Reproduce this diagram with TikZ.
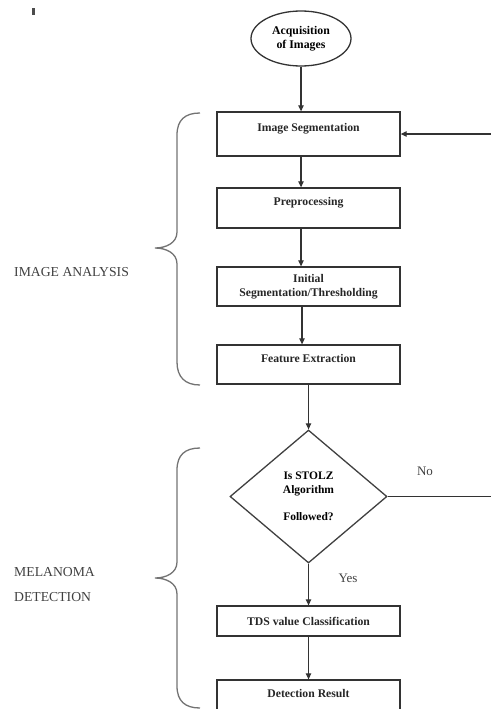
\documentclass[tikz,border=0pt]{standalone}
\usepackage{fontspec}
\setmainfont{Liberation Serif}
\usetikzlibrary{arrows.meta,shapes.geometric}

\tikzset{
    procbox/.style={draw=black!80, line width=1.3pt, minimum width=183pt, inner sep=0pt,
        align=center, font=\bfseries\fontsize{11.7}{14}\selectfont, text=black!85},
    raised/.style={text depth=13pt},
    flow/.style={draw=black!80, line width=1.2pt, -{Triangle[length=6pt,width=5.5pt]}},
    sidetext/.style={anchor=west, align=left, inner sep=0pt, text=black!75,
        font=\fontsize{13.7}{16}\selectfont},
    bracket/.style={draw=black!55, line width=1.3pt}
}

\begin{document}
\begin{tikzpicture}[x=1pt, y=-1pt]
    \useasboundingbox (0,0) rectangle (490,709);

    % kleine Markierung oben links
    \fill[black!70] (31.5,8.5) rectangle (34.5,15);

    % Start
    \node[ellipse, draw=black!80, line width=1.3pt, minimum width=100pt, minimum height=55pt,
          inner sep=0pt, align=center, font=\bfseries\fontsize{11.8}{14}\selectfont]
          (acq) at (301,38.5) {Acquisition\\of Images};

    % Verarbeitungsschritte
    \node[procbox, raised, minimum height=44pt] (seg)  at (308.5,134)   {Image Segmentation};
    \node[procbox, raised, minimum height=40pt] (prep) at (308.5,208)   {Preprocessing};
    \node[procbox, minimum height=39pt]         (init) at (308.5,286.5) {Initial\\Segmentation/Thresholding};
    \node[procbox, raised, minimum height=39pt] (feat) at (308.5,364.5) {Feature Extraction};

    % Entscheidung
    \node[diamond, draw=black!75, line width=1.3pt, minimum width=157pt, minimum height=133pt,
          inner sep=0pt, align=center, font=\bfseries\fontsize{11.5}{14}\selectfont]
          (dec) at (308.5,496.5) {Is STOLZ\\Algorithm\\[13pt]Followed?};

    \node[procbox, minimum height=30pt]         (tds)  at (308.5,621)   {TDS value Classification};
    \node[procbox, raised, minimum height=40pt] (det)  at (308.5,700)   {Detection Result};

    % Pfeile
    \draw[flow] (acq) -- (acq |- seg.north);
    \draw[flow] ([xshift=-7.5]seg.south) -- ([xshift=-7.5]prep.north);
    \draw[flow] ([xshift=-7.5]prep.south) -- ([xshift=-7.5]init.north);
    \draw[flow] ([xshift=-6.5]init.south) -- ([xshift=-6.5]feat.north);
    \draw[flow] (feat.south) -- (dec.north);
    \draw[flow] (dec.south) -- (tds.north);
    \draw[flow] (tds.south) -- (det.north);

    % Rueckfuehrung (rechts ausserhalb des Bildes)
    \coordinate (back) at (496,496.5);
    \draw[flow] (dec.east) -- (back) |- (seg.east);

    \node[font=\fontsize{13}{15}\selectfont, text=black!75] (no)  at (425,471) {No};
    \node[font=\fontsize{13}{15}\selectfont, text=black!75] (yes) at (348,578) {Yes};

    % geschweifte Klammern
    \draw[bracket] (200,113) .. controls (185,113) and (177,120) .. (177,135) -- (177,232)
        .. controls (177,243) and (166,248) .. (155,248)
        .. controls (166,248) and (177,253) .. (177,264) -- (177,362)
        .. controls (177,377) and (185,385) .. (200,385);
    \draw[bracket] (200,448) .. controls (185,448) and (177,455) .. (177,470) -- (177,562)
        .. controls (177,573) and (166,578) .. (155,578)
        .. controls (166,578) and (177,583) .. (177,594) -- (177,686)
        .. controls (177,701) and (185,708) .. (200,708);

    \node[sidetext] (ana) at (14,272) {IMAGE ANALYSIS};
    \node[sidetext] (mel) at (14,584.5) {MELANOMA\\[9pt]DETECTION};
\end{tikzpicture}
\end{document}
